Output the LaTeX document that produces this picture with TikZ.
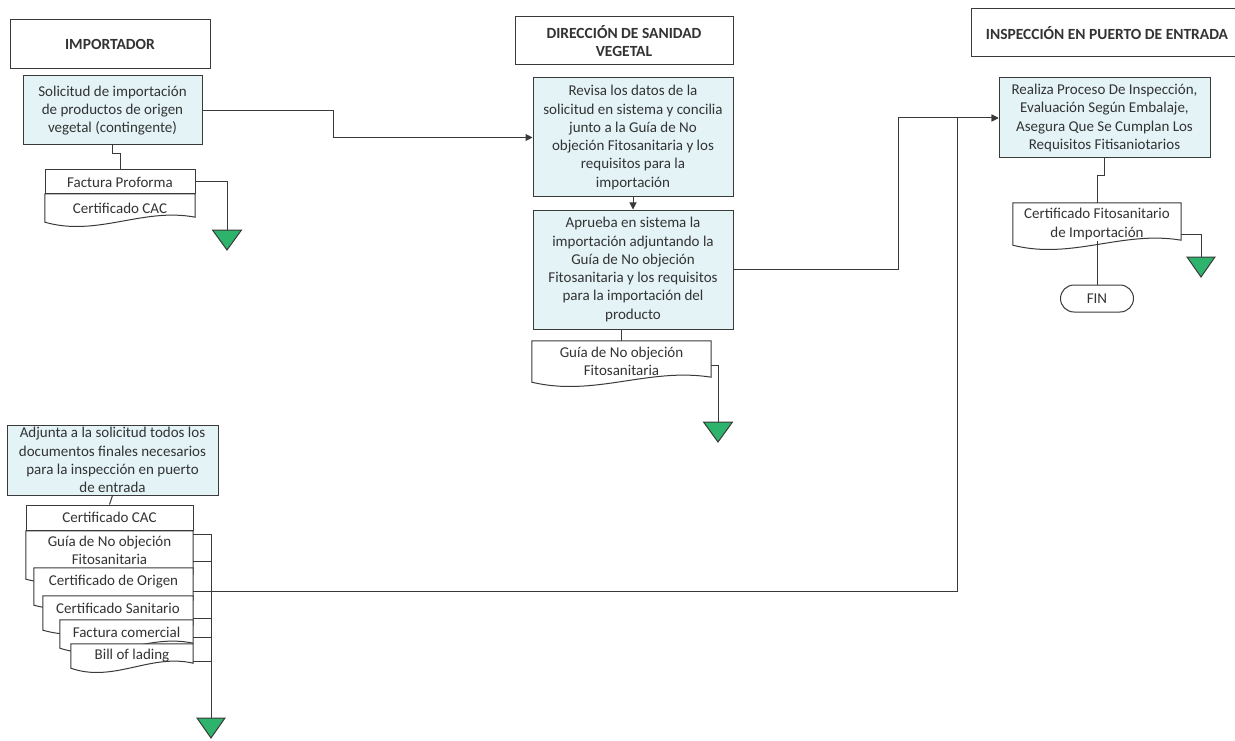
\documentclass[tikz,border=0pt]{standalone}
\usepackage{fontspec}
\setmainfont{Carlito}
\usetikzlibrary{calc,backgrounds,arrows.meta}
\definecolor{linec}{HTML}{3A3A3A}
\definecolor{procfill}{HTML}{E3F3F6}
\definecolor{trigreen}{HTML}{2DB36C}
\definecolor{txt}{HTML}{333333}
\tikzset{
 ln/.style={draw=linec, line width=1pt},
 arr/.style={ln, -{Triangle[length=7pt,width=7pt]}},
 bodyfont/.style={font=\fontsize{15}{18.3}\selectfont},
 proc/.style={ln, fill=procfill, align=center, inner sep=0pt, text=txt, bodyfont},
 hdr/.style={ln, fill=white, align=center, inner sep=0pt, text=txt, font=\fontsize{15.5}{18.5}\selectfont\bfseries},
 doctext/.style={draw=none, align=center, inner sep=0pt, text=txt, bodyfont},
 docbox/.style={ln, fill=white, align=center, inner sep=0pt, text=txt, bodyfont},
 trif/.style={ln, fill=trigreen},
}
\newcommand\docpage[2]{%
  \draw[ln, fill=white] let \p1=(#1.south west), \p2=(#1.south east) in
   (#1.north west) -- (#1.north east) -- (\x2,\y1-#2pt+5pt)
   .. controls (\x1+0.65*\x2-0.65*\x1, \y1-#2pt+15pt) and (\x1+0.35*\x2-0.35*\x1, \y1-#2pt-15pt)
   .. (\x1,\y1-#2pt) -- cycle;}
\newcommand\mergetri[2]{% name, width
  \draw[trif] (#1) ++(-#2/2,0) -- ++(#2,0) -- ++(-#2/2,20) -- cycle;}
\begin{document}
\begin{tikzpicture}[x=1pt,y=-1pt]
\useasboundingbox (0,0) rectangle (1235,741);
\clip (0,0) rectangle (1235,741);
\begin{scope}[on background layer]
\fill[white] (0,0) rectangle (1235,741);
\end{scope}

% headers
\node[hdr, minimum width=200, minimum height=49] (h1) at (110,44.5) {IMPORTADOR};
\node[hdr, minimum width=218, minimum height=48] (h2) at (624,41) {DIRECCIÓN DE SANIDAD\\VEGETAL};
\node[hdr, minimum width=272, minimum height=48] (h3) at (1107,33) {INSPECCIÓN EN PUERTO DE ENTRADA};

% importador top
\node[proc, minimum width=179, minimum height=69] (sol) at (112.5,110.5) {Solicitud de importación\\de productos de origen\\vegetal (contingente)};
\node[docbox, minimum width=150, minimum height=24] (fp) at (120,182) {Factura Proforma};
\node[doctext, minimum width=150, minimum height=28] (cac1) at (120,208) {Certificado CAC};

% direccion
\node[proc, minimum width=200, minimum height=119] (rev) at (633,137.5) {Revisa los datos de la\\solicitud en sistema y concilia\\junto a la Guía de No\\objeción Fitosanitaria y los\\requisitos para la\\importación};
\node[proc, minimum width=200, minimum height=119] (apr) at (633,269.5) {Aprueba en sistema la\\importación adjuntando la\\Guía de No objeción\\Fitosanitaria y los requisitos\\para la importación del\\producto};
\node[doctext, minimum width=179, minimum height=41] (gd) at (621.5,361.5) {Guía de No objeción\\Fitosanitaria};

% inspeccion
\node[proc, minimum width=211, minimum height=80] (rea) at (1104.5,118) {Realiza Proceso De Inspección,\\Evaluación Según Embalaje,\\Asegura Que Se Cumplan Los\\Requisitos Fitisaniotarios};
\node[doctext, minimum width=168, minimum height=42] (cf) at (1097,224) {Certificado Fitosanitario\\de Importación};
\node[ln, rounded corners=13.5pt, minimum width=73, minimum height=27, inner sep=0pt, text=txt, bodyfont] (fin) at (1097,298.5) {FIN};

% importador bottom
\node[proc, minimum width=211, minimum height=70] (adj) at (112.5,460) {Adjunta a la solicitud todos los\\documentos finales necesarios\\para la inspección en puerto\\de entrada};
\node[docbox, minimum width=167, minimum height=25] (cac2) at (109.5,517.5) {Certificado CAC};
\node[doctext, minimum width=167, minimum height=38] (p1) at (109.5,550) {Guía de No objeción\\Fitosanitaria};
\node[doctext, minimum width=159, minimum height=28] (p2) at (113.5,582) {Certificado de Origen};
\node[doctext, minimum width=150, minimum height=24] (p3) at (118,608) {Certificado Sanitario};
\node[doctext, minimum width=133, minimum height=24] (p4) at (126.5,632) {Factura comercial};
\node[doctext, minimum width=122, minimum height=24] (p5) at (132,656) {Bill of lading};

\begin{scope}[on background layer]
\docpage{cac1}{0}
\docpage{gd}{0}
\docpage{cf}{0}
\docpage{p1}{10}
\docpage{p2}{9}
\docpage{p3}{10}
\docpage{p4}{4}
\docpage{p5}{0}
\end{scope}

% merge triangles
\coordinate (t1) at (227,230);
\coordinate (t2) at (718,422);
\coordinate (t3) at (1201,257);
\coordinate (t4) at (211,718);
\mergetri{t1}{29}
\mergetri{t2}{29}
\mergetri{t3}{28}
\mergetri{t4}{28}

% connectors
\draw[ln] (sol.south) -- ++(0,8) -| (fp.north);
\draw[ln] (fp.east) -| (t1);
\draw[arr] (sol.east) -- ++(131,0) |- (rev.west);
\draw[arr] (rev.south) -- (apr.north);
\draw[ln] (apr.south -| gd.north) -- (gd.north);
\draw[ln] ([yshift=-3.5pt]gd.east) -| (t2);
\draw[arr] (apr.east) -- ++(165,0) |- (rea.west);
\draw[ln] (rea.south) -- ++(0,17) -| (cf.north);
\draw[ln] ([yshift=-10pt]cf.east) -| (t3);
\draw[ln] ([yshift=4pt]cf.south) -- (fin.north);
\draw[ln] (adj.south) -- (cac2.north);
\draw[ln] ([yshift=-4pt]p1.north east) -| (t4);
\draw[ln] ([yshift=8pt]p1.south east) -- ++(18,0);
\draw[arr] ([yshift=-9pt]p2.east) -- ++(764,0) |- (rea.west);
\draw[ln] ([yshift=-10pt]p3.east) -- ++(18,0);
\draw[ln] ([yshift=-5pt]p4.east) -- ++(18,0);
\draw[ln] ([yshift=-5pt]p5.east) -- ++(18,0);
\end{tikzpicture}
\end{document}
